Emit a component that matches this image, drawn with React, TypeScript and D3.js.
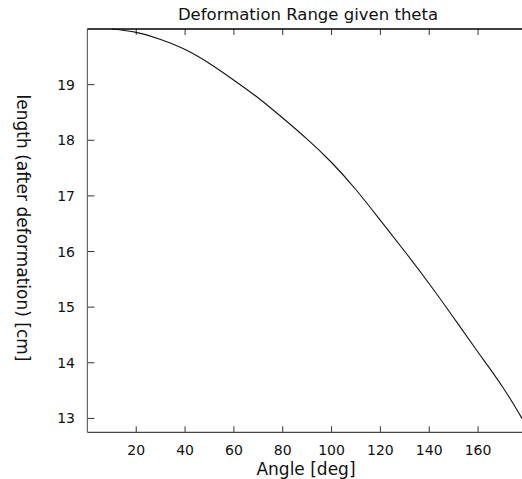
import { useEffect, useRef } from 'react';
import * as d3 from 'd3';

// angle in degrees vs. length after deformation in cm
const angles = [10, 20, 30, 40, 50, 60, 70, 80, 90, 100, 110, 120, 130, 140, 150, 160, 170, 178];
const lengths = [20.0, 19.94, 19.81, 19.63, 19.38, 19.08, 18.76, 18.4, 18.02, 17.6, 17.11, 16.56, 16.0, 15.42, 14.81, 14.19, 13.57, 13.0];
const xTicks = [20, 40, 60, 80, 100, 120, 140, 160];
const yTicks = [13, 14, 15, 16, 17, 18, 19];

const W = 522;
const H = 479;
const FONT = '"DejaVu Sans", sans-serif';

export default function App() {
  const svgRef = useRef<SVGSVGElement>(null);

  useEffect(() => {
    if (!svgRef.current) return;
    const svg = d3.select(svgRef.current);
    svg.selectAll('*').remove();

    const left = 87.4;
    const right = 522;
    const top = 29;
    const bottom = 432.3;

    const x = d3.scaleLinear().domain([0, 178]).range([left, right]);
    const y = d3.scaleLinear().domain([12.75, 20]).range([bottom, top]);

    const g = svg.append('g');

    // x ticks, bottom (pointing in) and top (pointing down)
    g.selectAll('.xb')
      .data(xTicks)
      .join('line')
      .attr('x1', (d) => x(d)).attr('x2', (d) => x(d))
      .attr('y1', bottom).attr('y2', bottom - 6)
      .attr('stroke', '#333').attr('stroke-width', 1);
    g.selectAll('.xt')
      .data(xTicks)
      .join('line')
      .attr('x1', (d) => x(d)).attr('x2', (d) => x(d))
      .attr('y1', top).attr('y2', top + 6)
      .attr('stroke', '#333').attr('stroke-width', 1);

    g.selectAll('.xl')
      .data(xTicks)
      .join('text')
      .attr('x', (d) => x(d))
      .attr('y', 455)
      .attr('text-anchor', 'middle')
      .style('font-family', FONT)
      .style('font-size', '14px')
      .attr('fill', '#111')
      .text((d) => d);

    g.selectAll('.yt')
      .data(yTicks)
      .join('line')
      .attr('x1', left).attr('x2', left + 7)
      .attr('y1', (d) => y(d)).attr('y2', (d) => y(d))
      .attr('stroke', '#333').attr('stroke-width', 1);

    g.selectAll('.yl')
      .data(yTicks)
      .join('text')
      .attr('x', 75)
      .attr('y', (d) => y(d) + 5)
      .attr('text-anchor', 'end')
      .style('font-family', FONT)
      .style('font-size', '14px')
      .attr('fill', '#111')
      .text((d) => d);

    // frame
    g.append('line').attr('x1', left).attr('x2', left).attr('y1', top).attr('y2', bottom)
      .attr('stroke', '#666').attr('stroke-width', 1.2);
    g.append('line').attr('x1', left).attr('x2', right).attr('y1', bottom).attr('y2', bottom)
      .attr('stroke', '#444').attr('stroke-width', 1.3);
    g.append('line').attr('x1', left).attr('x2', right).attr('y1', top).attr('y2', top)
      .attr('stroke', '#000').attr('stroke-width', 1.6);

    const pts = angles.map((a, i) => [a, lengths[i]] as [number, number]);
    const line = d3.line<[number, number]>()
      .x((d) => x(d[0]))
      .y((d) => y(d[1]))
      .curve(d3.curveNatural);
    g.append('path').datum(pts)
      .attr('d', line)
      .attr('fill', 'none')
      .attr('stroke', '#111')
      .attr('stroke-width', 1.1);

    g.append('text')
      .attr('x', 308).attr('y', 19.5)
      .attr('text-anchor', 'middle')
      .style('font-family', FONT)
      .style('font-size', '16.5px')
      .attr('fill', '#111')
      .text('Deformation Range given theta');

    g.append('text')
      .attr('x', 306).attr('y', 474.5)
      .attr('text-anchor', 'middle')
      .style('font-family', FONT)
      .style('font-size', '17px')
      .attr('fill', '#111')
      .text('Angle [deg]');

    g.append('text')
      .attr('transform', 'translate(16.5,228) rotate(90)')
      .attr('text-anchor', 'middle')
      .style('font-family', FONT)
      .style('font-size', '17px')
      .attr('fill', '#111')
      .text('length (after deformation) [cm]');
  }, []);

  return (
    <div style={{ position: 'fixed', left: 0, top: 0, background: '#fff' }}>
      <svg ref={svgRef} width={W} height={H} style={{ display: 'block' }} />
    </div>
  );
}
